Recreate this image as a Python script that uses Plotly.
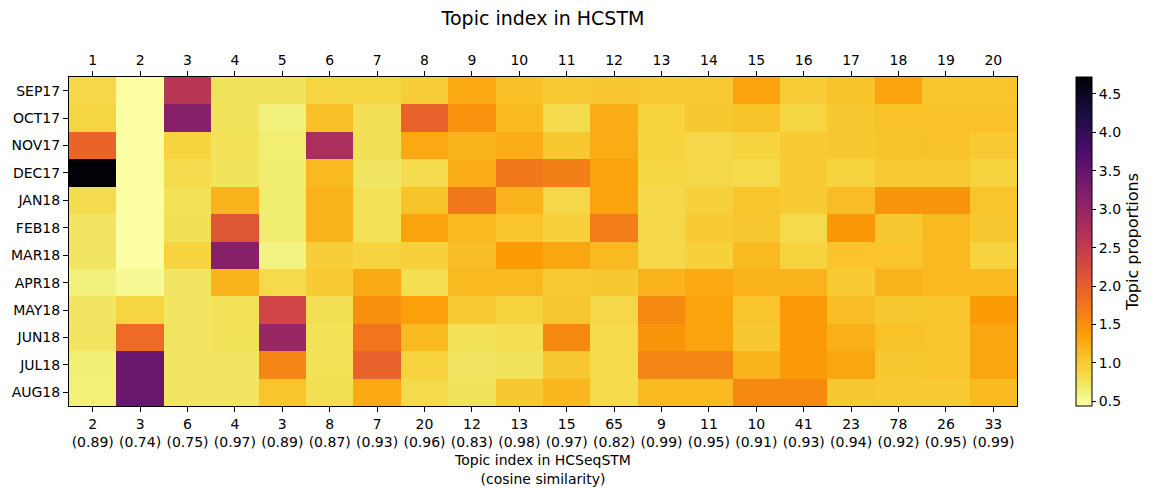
import plotly.graph_objects as go

months = ["SEP17", "OCT17", "NOV17", "DEC17", "JAN18", "FEB18", "MAR18", "APR18",
          "MAY18", "JUN18", "JUL18", "AUG18"]
hcstm_topics = [str(i) for i in range(1, 21)]
hcseq_topics = ["2", "3", "6", "4", "3", "8", "7", "20", "12", "13", "15", "65",
                "9", "11", "10", "41", "23", "78", "26", "33"]
cosine_sim = ["0.89", "0.74", "0.75", "0.97", "0.89", "0.87", "0.93", "0.96", "0.83", "0.98",
              "0.97", "0.82", "0.99", "0.95", "0.91", "0.93", "0.94", "0.92", "0.95", "0.99"]

proportions = [
    [0.85, 0.45, 2.60, 0.75, 0.75, 0.88, 0.88, 0.95, 1.28, 1.10, 1.00, 1.03, 1.00, 1.00, 1.33, 0.97, 1.07, 1.32, 1.06, 1.06],
    [0.88, 0.45, 3.15, 0.75, 0.62, 1.10, 0.78, 1.95, 1.48, 1.15, 0.82, 1.25, 0.90, 1.02, 1.07, 0.88, 1.02, 1.08, 1.08, 1.08],
    [1.93, 0.45, 0.90, 0.76, 0.65, 2.75, 0.78, 1.28, 1.20, 1.25, 1.02, 1.26, 0.90, 0.85, 0.90, 0.98, 1.02, 1.07, 1.08, 1.00],
    [4.70, 0.45, 0.82, 0.75, 0.66, 1.15, 0.73, 0.82, 1.25, 1.72, 1.65, 1.33, 0.88, 0.85, 0.84, 0.98, 0.90, 1.00, 1.00, 0.90],
    [0.82, 0.45, 0.77, 1.20, 0.66, 1.20, 0.77, 1.07, 1.72, 1.20, 0.85, 1.32, 0.85, 0.92, 1.05, 0.99, 1.13, 1.45, 1.45, 1.05],
    [0.73, 0.45, 0.78, 2.10, 0.66, 1.20, 0.77, 1.33, 1.15, 1.06, 0.92, 1.68, 0.85, 0.98, 1.04, 0.84, 1.42, 1.02, 1.15, 1.02],
    [0.73, 0.45, 0.90, 3.15, 0.60, 0.95, 0.90, 0.92, 1.12, 1.38, 1.30, 1.15, 0.85, 0.92, 1.15, 0.90, 1.06, 1.06, 1.15, 0.90],
    [0.62, 0.52, 0.73, 1.20, 0.84, 0.98, 1.27, 0.80, 1.15, 1.15, 0.99, 1.02, 1.20, 1.28, 1.20, 1.20, 0.99, 1.20, 1.15, 1.15],
    [0.73, 0.88, 0.73, 0.77, 2.33, 0.79, 1.50, 1.35, 0.99, 0.90, 1.04, 0.85, 1.55, 1.32, 1.06, 1.40, 1.12, 1.02, 1.05, 1.38],
    [0.73, 1.85, 0.73, 0.77, 2.95, 0.77, 1.75, 1.15, 0.77, 0.80, 1.55, 0.84, 1.45, 1.33, 1.02, 1.40, 1.22, 1.08, 1.06, 1.30],
    [0.64, 3.45, 0.73, 0.73, 1.60, 0.77, 1.95, 0.90, 0.73, 0.75, 1.02, 0.84, 1.60, 1.60, 1.20, 1.40, 1.30, 1.02, 1.06, 1.30],
    [0.63, 3.45, 0.73, 0.73, 1.06, 0.79, 1.28, 0.84, 0.75, 1.02, 1.17, 0.84, 1.15, 1.15, 1.55, 1.55, 1.02, 1.00, 1.00, 1.15],
]

colorbar_ticks = [0.5, 1.0, 1.5, 2.0, 2.5, 3.0, 3.5, 4.0, 4.5]
zmin, zmax = 0.44, 4.72

# matplotlib-style inferno samples (position, colour), reversed below
inferno_stops = [
    (0.0, "#000004"), (1 / 9, "#1b0c41"), (2 / 9, "#4a0c6b"), (3 / 9, "#781c6d"),
    (4 / 9, "#a52c60"), (5 / 9, "#cf4446"), (6 / 9, "#ed6925"), (7 / 9, "#fb9b06"),
    (0.85, "#f9c229"), (8 / 9, "#f7d13d"), (0.92, "#f3e055"), (0.949, "#f1ed71"),
    (0.969, "#f3f68a"), (1.0, "#fcffa4"),
]
inferno_r = sorted([(1 - p, c) for p, c in inferno_stops])

FONT = "DejaVu Sans"
FS = 14
ncol = len(hcstm_topics)
xs = list(range(ncol))
ys = list(range(len(months)))
bottom_labels = [f"{t}<br>({c})" for t, c in zip(hcseq_topics, cosine_sim)]

fig = go.Figure()
fig.add_trace(go.Heatmap(
    z=proportions, x=xs, y=ys,
    colorscale=[[p, c] for p, c in inferno_r], zmin=zmin, zmax=zmax,
    colorbar=dict(
        x=(1076 - 69) / 948, xanchor="left", xpad=0, y=0.5, yanchor="middle", ypad=0,
        len=1.0, lenmode="fraction", thickness=16,
        outlinewidth=1, outlinecolor="black",
        ticks="outside", ticklen=4, tickcolor="black",
        tickvals=colorbar_ticks, ticktext=[f"{v:.1f}" for v in colorbar_ticks],
        tickfont=dict(family=FONT, size=FS, color="black"),
        title=dict(text="Topic proportions", side="right",
                   font=dict(family=FONT, size=16, color="black")),
    ),
    hoverongaps=False,
))
fig.add_trace(go.Scatter(x=[None], y=[None], xaxis="x2", yaxis="y",
                         showlegend=False, hoverinfo="skip"))

fig.update_layout(
    width=1159, height=488,
    margin=dict(l=69, r=142, t=77, b=82, autoexpand=False),
    paper_bgcolor="white", plot_bgcolor="white",
    font=dict(family=FONT, size=FS, color="black"),
    title=dict(text="Topic index in HCSTM", x=(69 + 1017) / 2 / 1159, xanchor="center",
               y=1 - 18 / 488, yanchor="middle",
               font=dict(family=FONT, size=19, color="black")),
    xaxis=dict(
        range=[-0.5, ncol - 0.5], tickvals=xs, ticktext=bottom_labels,
        ticks="outside", ticklen=5, tickcolor="black",
        showline=True, linecolor="black", linewidth=1, mirror=True,
        showgrid=False, zeroline=False,
        tickfont=dict(family=FONT, size=FS, color="black"),
        title=dict(text="Topic index in HCSeqSTM<br>(cosine similarity)",
                   font=dict(family=FONT, size=FS, color="black"), standoff=6),
    ),
    xaxis2=dict(
        range=[-0.5, ncol - 0.5], tickvals=xs, ticktext=hcstm_topics,
        overlaying="x", side="top", anchor="y",
        ticks="outside", ticklen=5, tickcolor="black",
        showline=False, showgrid=False, zeroline=False,
        tickfont=dict(family=FONT, size=FS, color="black"),
    ),
    yaxis=dict(
        range=[len(months) - 0.5, -0.5], tickvals=ys, ticktext=months,
        ticks="outside", ticklen=5, tickcolor="black",
        showline=True, linecolor="black", linewidth=1, mirror=True,
        showgrid=False, zeroline=False,
        tickfont=dict(family=FONT, size=FS, color="black"),
    ),
)

fig.write_html("out.html")
